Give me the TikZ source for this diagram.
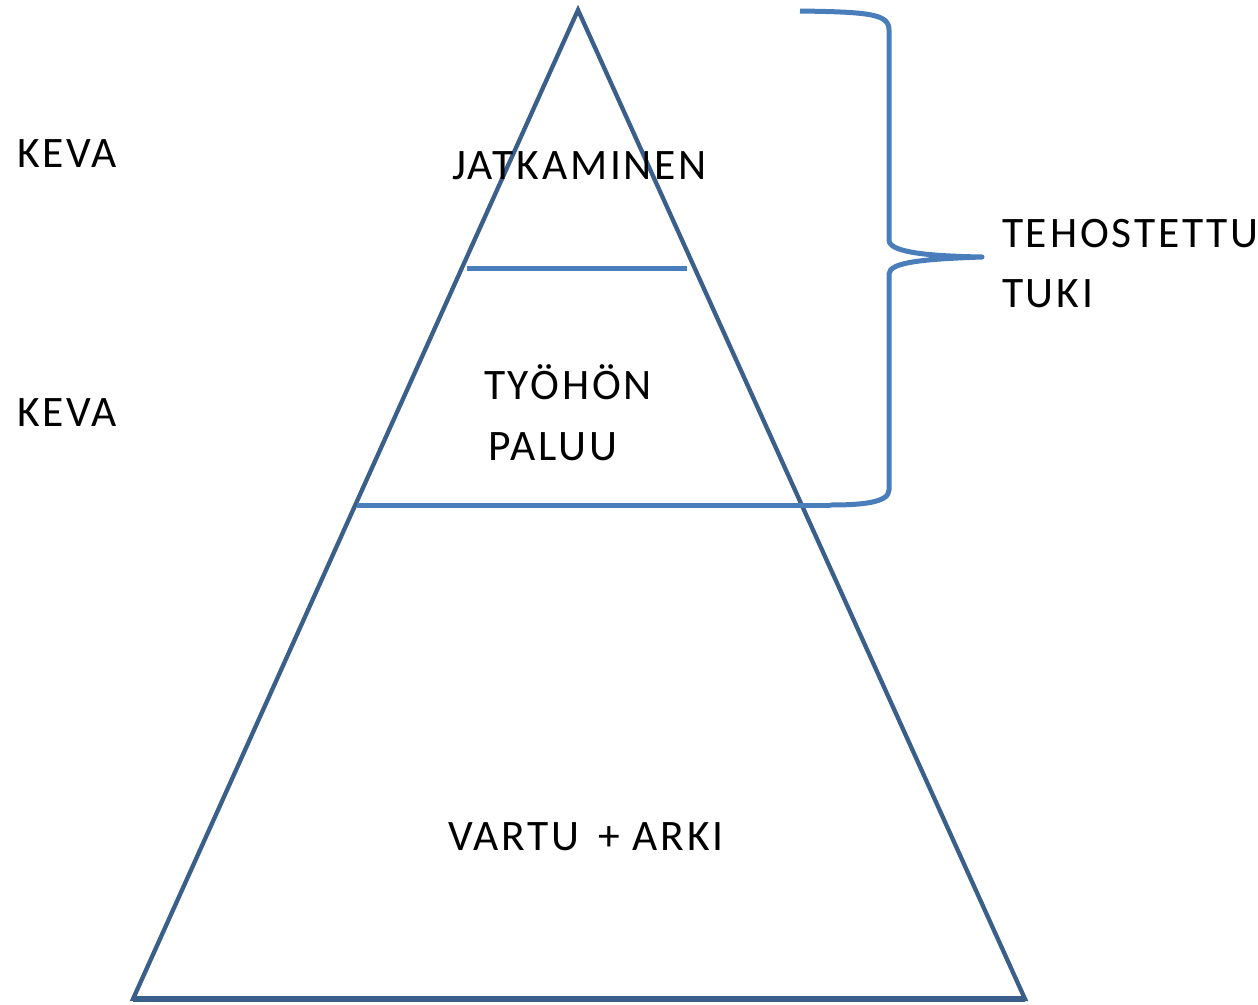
\documentclass[tikz,border=0pt]{standalone}
\usepackage{fontspec}
\setmainfont{Carlito}[LetterSpace=6.5]
\definecolor{tri}{HTML}{3A5F8B}
\definecolor{ln}{HTML}{4A7EBB}
\begin{document}
\begin{tikzpicture}[x=1pt,y=-1pt,
  lbl/.style={anchor=base west,inner sep=0pt,outer sep=0pt,font=\fontsize{43.5}{52}\selectfont},
  triline/.style={draw=tri,line width=4.3pt,line join=miter},
  sepline/.style={draw=ln,line width=5pt},
  bracestyle/.style={draw=ln,line width=5pt,line join=round}]
\useasboundingbox (0,0) rectangle (1258,1004);
% triangle
\coordinate (apex) at (578,10);
\coordinate (bl) at (133,999);
\coordinate (br) at (1025,999);
\draw[triline] (bl) -- (apex) -- (br) -- cycle;
\draw[draw=tri,line width=5.5pt] (bl) -- (br);
% separators
\coordinate (s1l) at (467,268);
\coordinate (s1r) at (687,268);
\coordinate (s2l) at (357,505);
\coordinate (s2r) at (830,505);
\draw[sepline] (s1l) -- (s1r);
\draw[sepline] (s2l) -- (s2r);
% brace
\coordinate (btop) at (800,11);
\coordinate (btip) at (982,257);
\draw[bracestyle] (btop) .. controls (870,12) and (889,14) .. (889,30)
  -- (889,240) .. controls (889,252) and (925,256) .. (btip)
  .. controls (925,259) and (889,262) .. (889,274)
  -- (889,490) .. controls (889,503) and (860,505) .. (s2r);
% labels
\node[lbl] (keva1) at (17,167) {KEVA};
\node[lbl] (keva2) at (17,426) {KEVA};
\node[lbl] (jatk) at (452,179) {JATKAMINEN};
\node[lbl] (tyo) at (484,399) {TYÖHÖN};
\node[lbl] (paluu) at (488,460) {PALUU};
\node[lbl] (vartu) at (448,850) {VARTU\hspace{0.15em} + ARKI};
\node[lbl] (teh) at (1002,247) {TEHOSTETTU};
\node[lbl] (tuki) at (1002,307) {TUKI};
\end{tikzpicture}
\end{document}
